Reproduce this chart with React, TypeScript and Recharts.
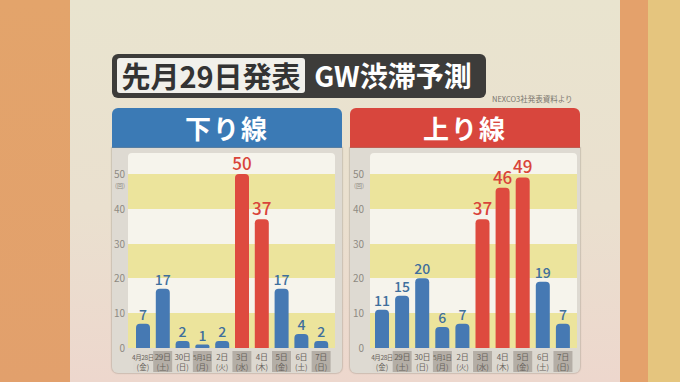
import React from 'react';
import { Bar, BarChart, CartesianGrid, Cell, LabelList, XAxis, YAxis } from 'recharts';

// GW traffic jam forecast (count of 10km+ jams per day)
const dates = ['4月28日', '29日', '30日', '5月1日', '2日', '3日', '4日', '5日', '6日', '7日'];
const weekdays = ['金', '土', '日', '月', '火', '水', '木', '金', '土', '日'];
const kudariValues = [7, 17, 2, 1, 2, 50, 37, 17, 4, 2];
const noboriValues = [11, 15, 20, 6, 7, 37, 46, 49, 19, 7];
const yTicks = [0, 10, 20, 30, 40, 50];
const peakThreshold = 30;

const FONT = '"Noto Sans CJK JP", "Noto Sans", sans-serif';
const BLUE = '#4679B3';
const RED = '#DE4A3F';
const BLUE_TEXT = '#3F6F9C';
const RED_TEXT = '#D9443A';
const YELLOW = '#ECE49C';
const WHITE = '#F6F4EC';

const YTick = ({ x, y, payload }: any) => (
  <g>
    <text x={x} y={y + 4} textAnchor="end" fontSize={10} fill="#8E8A82" fontFamily={FONT}>
      {payload.value}
    </text>
    {payload.value === 50 && (
      <text x={x} y={y + 14} textAnchor="end" fontSize={6} fill="#8E8A82" fontFamily={FONT}>
        (回)
      </text>
    )}
  </g>
);

const XTick = ({ x, y, payload, index }: any) => {
  const i = index ?? dates.indexOf(payload.value);
  const shaded = i % 2 === 1;
  const long = payload.value.length > 3;
  return (
    <g>
      <rect x={x - 9.5} y={y + 1} width={19} height={21} fill={shaded ? '#B4AEA6' : '#DCD8D0'} />
      <text
        x={x}
        y={y + 10}
        textAnchor="middle"
        fontSize={long ? 6.5 : 8}
        letterSpacing={long ? -0.4 : -0.3}
        fill="#67625B"
        fontFamily={FONT}
      >
        {payload.value}
      </text>
      <text x={x} y={y + 19.5} textAnchor="middle" fontSize={7.5} fill="#67625B" fontFamily={FONT}>
        ({weekdays[i]})
      </text>
    </g>
  );
};

const ValueLabel = ({ x, y, width, value }: any) => {
  const peak = value >= peakThreshold;
  return (
    <text
      x={x + width / 2}
      y={y - 4}
      textAnchor="middle"
      fontSize={peak ? 17 : 14}
      fontWeight={500}
      fill={peak ? RED_TEXT : BLUE_TEXT}
      fontFamily={FONT}
    >
      {value}
    </text>
  );
};

interface PanelProps {
  title: string;
  color: string;
  values: number[];
  left: number;
  yWidth: number;
  tickMargin: number;
  padLeft: number;
  padRight: number;
}

const Panel: React.FC<PanelProps> = ({ title, color, values, left, yWidth, tickMargin, padLeft, padRight }) => {
  const data = dates.map((d, i) => ({ date: d, value: values[i] }));
  return (
    <>
      <div
        style={{
          position: 'absolute', left, top: 108, width: 230, height: 40,
          background: color, borderRadius: '6px 6px 0 0', color: '#fff',
          fontFamily: FONT, fontWeight: 700, fontSize: 26, lineHeight: '40px',
          textAlign: 'center', letterSpacing: 2,
        }}
      >
        {title}
      </div>
      <div
        style={{
          position: 'absolute', left, top: 148, width: 230, height: 225,
          background: '#DEDAD2', borderRadius: '0 0 6px 6px',
          boxShadow: '0 0 1px 1px rgba(150,140,130,0.35)',
        }}
      />
      {/* white plot backing */}
      <div
        style={{
          position: 'absolute', left: left + yWidth, top: 153, width: 207, height: 195,
          background: WHITE, borderRadius: '4px 4px 0 0',
        }}
      />
      <div style={{ position: 'absolute', left, top: 138 }}>
        <BarChart
          width={230}
          height={234}
          data={data}
          margin={{ top: 15, right: 230 - yWidth - 207, bottom: 0, left: 0 }}
        >
          <CartesianGrid vertical={false} stroke="transparent" horizontalFill={['transparent', YELLOW]} />
          <XAxis
            dataKey="date"
            axisLine={false}
            tickLine={false}
            tickSize={0}
            height={24}
            interval={0}
            padding={{ left: padLeft, right: padRight }}
            tick={<XTick />}
          />
          <YAxis
            domain={[0, 56]}
            ticks={yTicks}
            width={yWidth}
            axisLine={false}
            tickLine={false}
            tickSize={0}
            tickMargin={tickMargin}
            tick={<YTick />}
          />
          <Bar dataKey="value" barSize={14} radius={[4, 4, 0, 0]} isAnimationActive={false}>
            {data.map((d, i) => (
              <Cell key={i} fill={d.value >= peakThreshold ? RED : BLUE} />
            ))}
            <LabelList dataKey="value" content={<ValueLabel />} />
          </Bar>
        </BarChart>
      </div>
    </>
  );
};

export default function App() {
  return (
    <div
      style={{
        position: 'absolute', left: 0, top: 0, width: 680, height: 382, overflow: 'hidden',
        background: 'linear-gradient(180deg, #E3A46B 0%, #E2A06C 100%)',
      }}
    >
      <div style={{ position: 'absolute', left: 620, top: 0, width: 28, height: 382, background: '#E4A16B' }} />
      <div style={{ position: 'absolute', left: 648, top: 0, width: 32, height: 382, background: '#E5C57E' }} />
      <div
        style={{
          position: 'absolute', left: 70, top: 0, width: 550, height: 382,
          background: 'linear-gradient(180deg, #E9E4CF 0%, #EAE0CF 55%, #EDD7CD 100%)',
        }}
      />
      {/* title */}
      <div
        style={{
          position: 'absolute', left: 112, top: 54, width: 374, height: 44,
          background: '#3D3C3A', borderRadius: 6,
        }}
      />
      <div
        style={{
          position: 'absolute', left: 117, top: 58, width: 188, height: 35,
          background: '#F1F0EB', borderRadius: 3, color: '#333',
          fontFamily: FONT, fontWeight: 700, fontSize: 29, lineHeight: '35px', textAlign: 'center',
        }}
      >
        先月29日発表
      </div>
      <div
        style={{
          position: 'absolute', left: 305, top: 58, width: 176, height: 35,
          color: '#fff', fontFamily: FONT, fontWeight: 700, fontSize: 28,
          lineHeight: '35px', textAlign: 'center',
        }}
      >
        GW渋滞予測
      </div>
      <div
        style={{
          position: 'absolute', left: 492, top: 93, fontFamily: FONT, fontSize: 7.5,
          color: '#7A766E', whiteSpace: 'nowrap',
        }}
      >
        NEXCO3社発表資料より
      </div>
      <Panel title="下り線" color="#3B7AB5" values={kudariValues} left={112} yWidth={16} tickMargin={3} padLeft={5} padRight={4} />
      <Panel title="上り線" color="#D8463D" values={noboriValues} left={350} yWidth={20} tickMargin={6} padLeft={2} padRight={4} />
    </div>
  );
}
